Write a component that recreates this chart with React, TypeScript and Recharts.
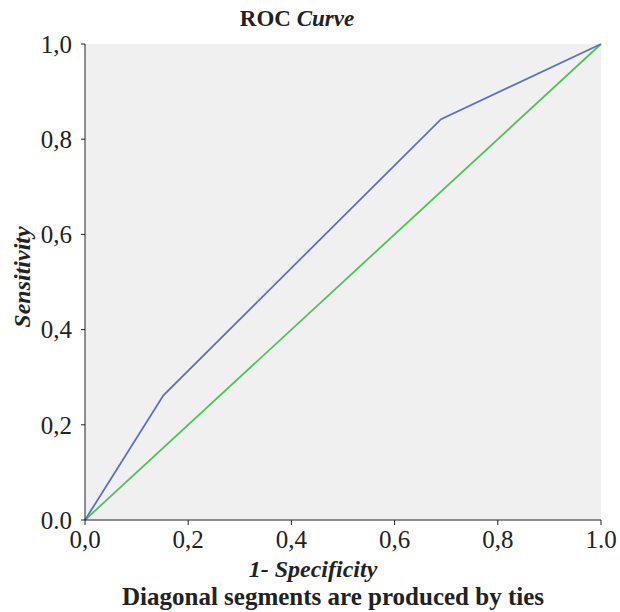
import React from 'react';
import { LineChart, Line, XAxis, YAxis, CartesianGrid } from 'recharts';

const rocX = [0, 0.152, 0.69, 1];
const rocY = [0, 0.262, 0.842, 1];
const refX = [0, 1];
const refY = [0, 1];
const xTicks = [0, 0.2, 0.4, 0.6, 0.8, 1];
const xTickLabels = ['0,0', '0,2', '0,4', '0,6', '0,8', '1.0'];
const yTickLabels = ['0.0', '0,2', '0,4', '0,6', '0,8', '1,0'];

const rocData = rocX.map((x, i) => ({ x, y: rocY[i] }));
const refData = refX.map((x, i) => ({ x, y: refY[i] }));

const font = '"Liberation Serif", "Times New Roman", serif';

const App: React.FC = () => {
  return (
    <div style={{ position: 'absolute', left: 0, top: 0, width: 620, height: 612, background: '#fff', fontFamily: font }}>
      <div style={{ position: 'absolute', top: 6, left: 0, width: 594, textAlign: 'center', fontSize: 23, fontWeight: 'bold', color: '#222' }}>
        ROC <i>Curve</i>
      </div>
      <LineChart width={620} height={612} margin={{ top: 44, right: 19, left: 25, bottom: 62 }}>
        <CartesianGrid fill="#f0f0f0" horizontal={false} vertical={false} />
        <XAxis
          type="number"
          dataKey="x"
          domain={[0, 1]}
          ticks={xTicks}
          tickFormatter={(v: number) => xTickLabels[xTicks.indexOf(v)]}
          height={30}
          stroke="#222"
          tickSize={5}
          tick={{ fill: '#222', fontSize: 25, fontFamily: font, dy: 3 }}
        />
        <XAxis xAxisId="top" orientation="top" type="number" domain={[0, 1]} height={0} tick={false} tickLine={false} stroke="#222" />
        <YAxis
          type="number"
          domain={[0, 1]}
          ticks={xTicks}
          tickFormatter={(v: number) => yTickLabels[xTicks.indexOf(v)]}
          width={60}
          stroke="#222"
          tickSize={4}
          tick={{ fill: '#222', fontSize: 25, fontFamily: font, dx: -7 }}
        />
        <YAxis yAxisId="right" orientation="right" type="number" domain={[0, 1]} width={0} tick={false} tickLine={false} stroke="#222" />
        <Line data={refData} dataKey="y" stroke="#4cc557" strokeWidth={1.8} dot={false} isAnimationActive={false} />
        <Line data={rocData} dataKey="y" stroke="#5a6fc6" strokeWidth={1.8} dot={false} isAnimationActive={false} />
      </LineChart>
      <div style={{ position: 'absolute', top: 556, left: 0, width: 626, textAlign: 'center', fontSize: 24, fontWeight: 'bold', fontStyle: 'italic', color: '#222' }}>
        1- Specificity
      </div>
      <div style={{ position: 'absolute', top: 583, left: 0, width: 666, textAlign: 'center', fontSize: 25, fontWeight: 'bold', color: '#222' }}>
        Diagonal segments are produced by ties
      </div>
      <div style={{ position: 'absolute', left: 22, top: 277, width: 0, height: 0 }}>
        <div style={{ position: 'absolute', transform: 'translate(-50%, -50%) rotate(-90deg)', whiteSpace: 'nowrap', fontSize: 24, fontWeight: 'bold', fontStyle: 'italic', color: '#222' }}>
          Sensitivity
        </div>
      </div>
    </div>
  );
};

export default App;
